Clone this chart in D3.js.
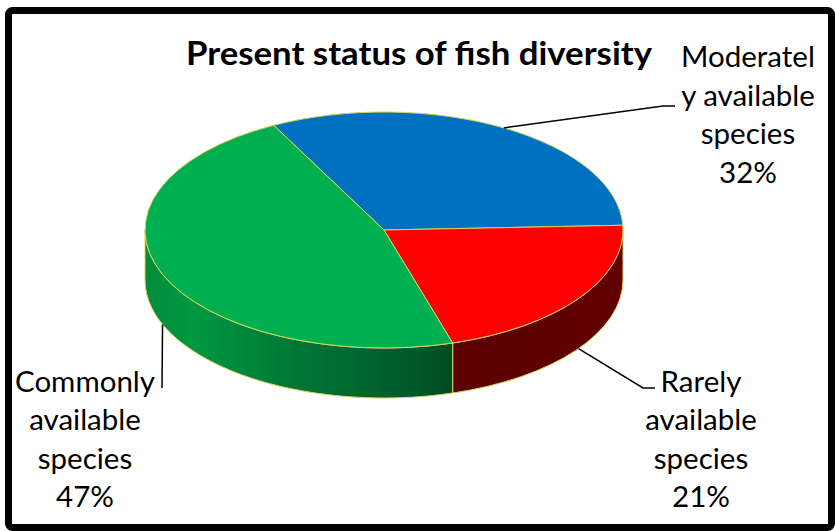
<!DOCTYPE html>
<html>
<head>
<meta charset="utf-8">
<title>Present status of fish diversity</title>
<script src="https://d3js.org/d3.v7.min.js"></script>
<style>
  body { margin: 0; background: #fff; }
  text { font-family: Lato, "Open Sans", sans-serif; fill: #000; }
</style>
</head>
<body>
<script>
    // data
    const categories = ["Moderately available species", "Rarely available species", "Commonly available species"];
    const values = [32, 21, 47];
    const labelLines = [["Moderatel", "y available", "species"], ["Rarely", "available", "species"], ["Commonly", "available", "species"]];
    const topColors = ["#0070C0", "#FF0000", "#00B050"];
    const title = "Present status of fish diversity";

    const W = 835, H = 531;
    const cx = 384, cy = 230, rx = 239, ry = 118, depth = 50;
    const k = ry / rx;
    const start = -27.5 * Math.PI / 180;

    const svg = d3.select("body").append("svg")
        .attr("width", W)
        .attr("height", H);

    svg.append("rect")
        .attr("width", W).attr("height", H)
        .attr("fill", "#fff");

    const defs = svg.append("defs");
    const gGreen = defs.append("linearGradient")
        .attr("id", "sideGreen")
        .attr("gradientUnits", "userSpaceOnUse")
        .attr("x1", -rx).attr("x2", 70).attr("y1", 0).attr("y2", 0);
    [[0, "#008c3b"], [0.15, "#009842"], [0.5, "#007535"], [0.85, "#005a2b"], [1, "#004a23"]]
        .forEach(s => gGreen.append("stop").attr("offset", s[0]).attr("stop-color", s[1]));
    const gRed = defs.append("linearGradient")
        .attr("id", "sideRed")
        .attr("gradientUnits", "userSpaceOnUse")
        .attr("x1", 60).attr("x2", rx).attr("y1", 0).attr("y2", 0);
    [[0, "#5a0000"], [1, "#620000"]]
        .forEach(s => gRed.append("stop").attr("offset", s[0]).attr("stop-color", s[1]));
    const sideFill = ["#003c6a", "url(#sideRed)", "url(#sideGreen)"];

    const pie = d3.pie().sort(null).value(d => d)
        .startAngle(start).endAngle(start + 2 * Math.PI);
    const arcs = pie(values);

    const g = svg.append("g")
        .attr("transform", `translate(${cx},${cy}) scale(1,${k})`);

    // front side walls
    const D = depth / k;
    const half = Math.PI / 2;
    const sidePath = d => {
        const a0 = Math.max(d.startAngle, half), a1 = Math.min(d.endAngle, 3 * half);
        if (a0 >= a1) return null;
        const p = d3.path();
        p.moveTo(rx * Math.cos(a0 - half), rx * Math.sin(a0 - half));
        p.arc(0, 0, rx, a0 - half, a1 - half, false);
        p.lineTo(rx * Math.cos(a1 - half), rx * Math.sin(a1 - half) + D);
        p.arc(0, D, rx, a1 - half, a0 - half, true);
        p.closePath();
        return p.toString();
    };
    g.selectAll("path.side").data(arcs.filter(d => sidePath(d))).join("path")
        .attr("class", "side")
        .attr("d", sidePath)
        .attr("fill", d => sideFill[d.index])
        .attr("stroke", "#d8d45a")
        .attr("stroke-width", 1)
        .attr("vector-effect", "non-scaling-stroke");

    // top faces
    const arc = d3.arc().innerRadius(0).outerRadius(rx);
    g.selectAll("path.top").data(arcs).join("path")
        .attr("class", "top")
        .attr("d", arc)
        .attr("fill", d => topColors[d.index])
        .attr("stroke", "#d8d45a")
        .attr("stroke-width", 1)
        .attr("vector-effect", "non-scaling-stroke");

    // title
    svg.append("text")
        .attr("x", 186).attr("y", 65)
        .attr("font-size", 32)
        .attr("font-weight", "bold")
        .attr("textLength", 466)
        .attr("lengthAdjust", "spacingAndGlyphs")
        .text(title);

    // data labels with leader lines
    const labelPos = [
        { x: 748, y: 67, step: 38.7, onSide: false, path: [[663, 106], [675, 106]] },
        { x: 701, y: 392, step: 38.3, onSide: true, path: [[643, 388], [655, 388]] },
        { x: 85, y: 392, step: 38.3, onSide: true, path: [[162, 388]] }
    ];
    const anchor = (d, onSide) => {
        const m = (d.startAngle + d.endAngle) / 2;
        return [cx + rx * Math.sin(m), cy - ry * Math.cos(m) + (onSide ? depth : 0)];
    };
    arcs.forEach((d, i) => {
        const pos = labelPos[i];
        svg.append("path")
            .attr("d", d3.line()([anchor(d, pos.onSide)].concat(pos.path)))
            .attr("fill", "none")
            .attr("stroke", "#000")
            .attr("stroke-width", 1.5);
        const lines = labelLines[i].concat([values[i] + "%"]);
        const t = svg.append("text")
            .attr("text-anchor", "middle")
            .attr("font-size", 29.5);
        lines.forEach((s, j) => {
            t.append("tspan")
                .attr("x", pos.x)
                .attr("y", pos.y + j * pos.step)
                .text(s);
        });
    });

    // chart frame
    svg.append("rect")
        .attr("x", 8.5).attr("y", 10.5)
        .attr("width", 823).attr("height", 517)
        .attr("rx", 4)
        .attr("fill", "none")
        .attr("stroke", "#000")
        .attr("stroke-width", 7);
</script>
</body>
</html>
